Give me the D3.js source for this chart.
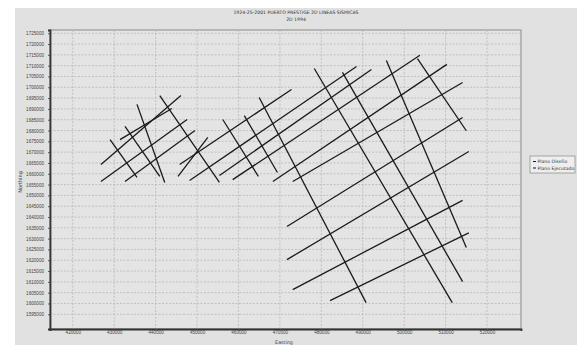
<!DOCTYPE html>
<html>
<head>
<meta charset="utf-8">
<script src="https://cdn.jsdelivr.net/npm/d3@7"></script>
<style>
  body { margin: 0; background: #fff; }
  svg { display: block; font-family: "DejaVu Sans", Arial, sans-serif; }
</style>
</head>
<body>
<svg id="chart" width="579" height="345"></svg>
<script>
// -------- DATA --------
const titleLines = ["1924-25-2001 PUERTO PRESTIGE 2D LINEAS SISMICAS", "2D 1994"];
const seriesNames = ["Plano Diseño", "Plano Ejecutado"];

const xTicks = [420000, 430000, 440000, 450000, 460000, 470000, 480000, 490000, 500000, 510000, 520000];
const yTicks = d3.range(1595000, 1725001, 5000);

// design lines (NE trend): [E1, N1, E2, N2]
const designLines = [
  [426800, 1664300, 446100, 1696200],
  [431400, 1675800, 443900, 1690200],
  [426800, 1656400, 447600, 1685100],
  [432600, 1656400, 449500, 1680000],
  [445400, 1658800, 452600, 1676800],
  [445800, 1664300, 472800, 1699000],
  [448200, 1656900, 488500, 1709600],
  [455400, 1659200, 492100, 1708200],
  [458600, 1657300, 503800, 1714800],
  [468300, 1656400, 510300, 1710600],
  [473100, 1656400, 514100, 1702200],
  [471700, 1635600, 514100, 1686000],
  [471700, 1620300, 515600, 1670300],
  [473100, 1606400, 514100, 1647700],
  [482100, 1601300, 515600, 1632700]
];

// executed lines (SE trend)
const executedLines = [
  [429000, 1675800, 435500, 1658300],
  [432600, 1681900, 441000, 1658800],
  [435500, 1692100, 442200, 1656000],
  [441000, 1696200, 455400, 1656000],
  [456200, 1685100, 464800, 1658800],
  [461400, 1686900, 469400, 1660600],
  [465000, 1695300, 490800, 1600400],
  [478300, 1708700, 511600, 1600400],
  [485100, 1706900, 514100, 1610100],
  [495700, 1712400, 515000, 1625900],
  [503200, 1713300, 515000, 1679900]
];

// -------- LAYOUT --------
const svg = d3.select("#chart");
const W = 579, H = 345;
const plot = { left: 50, top: 30, right: 521, bottom: 329 };

const x = d3.scaleLinear().domain([414500, 528200]).range([plot.left, plot.right]);
const y = d3.scaleLinear().domain([1588200, 1726500]).range([plot.bottom, plot.top]);

// panel background
svg.append("rect").attr("x", 0).attr("y", 0).attr("width", W).attr("height", H).attr("fill", "#fff");
svg.append("rect").attr("x", 15).attr("y", 8).attr("width", W - 17).attr("height", H - 8).attr("fill", "#e1e1e1");

// plot area
svg.append("rect")
  .attr("x", plot.left).attr("y", plot.top)
  .attr("width", plot.right - plot.left).attr("height", plot.bottom - plot.top)
  .attr("fill", "#e4e4e4").attr("stroke", "#8a8a8a").attr("stroke-width", 1);

// gridlines
const grid = svg.append("g").attr("stroke", "#b8b8b8").attr("stroke-width", 0.8).attr("stroke-dasharray", "2,1.5");
grid.selectAll("line.gx").data(xTicks).enter().append("line")
  .attr("x1", d => x(d)).attr("x2", d => x(d))
  .attr("y1", plot.top).attr("y2", plot.bottom);
grid.selectAll("line.gy").data(yTicks).enter().append("line")
  .attr("x1", plot.left).attr("x2", plot.right)
  .attr("y1", d => y(d)).attr("y2", d => y(d));

// axes
const fmt = d3.format("d");
const xAxis = svg.append("g")
  .attr("transform", `translate(0,${plot.bottom})`)
  .call(d3.axisBottom(x).tickValues(xTicks).tickFormat(fmt).tickSize(2));
const yAxis = svg.append("g")
  .attr("transform", `translate(${plot.left},0)`)
  .call(d3.axisLeft(y).tickValues(yTicks).tickFormat(fmt).tickSize(2));

[xAxis, yAxis].forEach(g => {
  g.select(".domain").attr("stroke", "#333").attr("stroke-width", 1.8);
  g.selectAll(".tick line").attr("stroke", "#555");
  g.selectAll(".tick text").attr("fill", "#444").attr("font-size", 4.6);
});
xAxis.selectAll(".tick text").attr("y", 2).attr("dy", "0.75em");
yAxis.selectAll(".tick text").attr("dx", "-1px");

// axis titles
svg.append("text")
  .attr("x", 284).attr("y", 343.5)
  .attr("text-anchor", "middle").attr("font-size", 4.8).attr("fill", "#444")
  .text("Easting");
svg.append("text")
  .attr("transform", "translate(22,182) rotate(-90)")
  .attr("text-anchor", "middle").attr("font-size", 5).attr("fill", "#444")
  .text("Northing");

// title
svg.selectAll("text.title").data(titleLines).enter().append("text")
  .attr("x", 296).attr("y", (d, i) => 14 + i * 6.5)
  .attr("text-anchor", "middle").attr("font-size", 4.6).attr("fill", "#333")
  .text(d => d);

// survey lines
const drawLines = (data, cls) => {
  svg.append("g").attr("class", cls)
    .selectAll("line").data(data).enter().append("line")
    .attr("x1", d => x(d[0])).attr("y1", d => y(d[1]))
    .attr("x2", d => x(d[2])).attr("y2", d => y(d[3]))
    .attr("stroke", "#1a1a1a").attr("stroke-width", 1.3);
};
drawLines(designLines, "design");
drawLines(executedLines, "executed");

// legend
const lg = svg.append("g").attr("transform", "translate(530,156)");
lg.append("rect").attr("width", 45).attr("height", 17).attr("fill", "#eeeeee").attr("stroke", "#777").attr("stroke-width", 0.6);
seriesNames.forEach((s, i) => {
  lg.append("line").attr("x1", 3).attr("x2", 6).attr("y1", 5.5 + i * 6.5).attr("y2", 5.5 + i * 6.5)
    .attr("stroke", "#1a1a1a").attr("stroke-width", 1);
  lg.append("text").attr("x", 7.5).attr("y", 7 + i * 6.5)
    .attr("font-size", 4.6).attr("fill", "#333").text(s);
});
</script>
</body>
</html>
